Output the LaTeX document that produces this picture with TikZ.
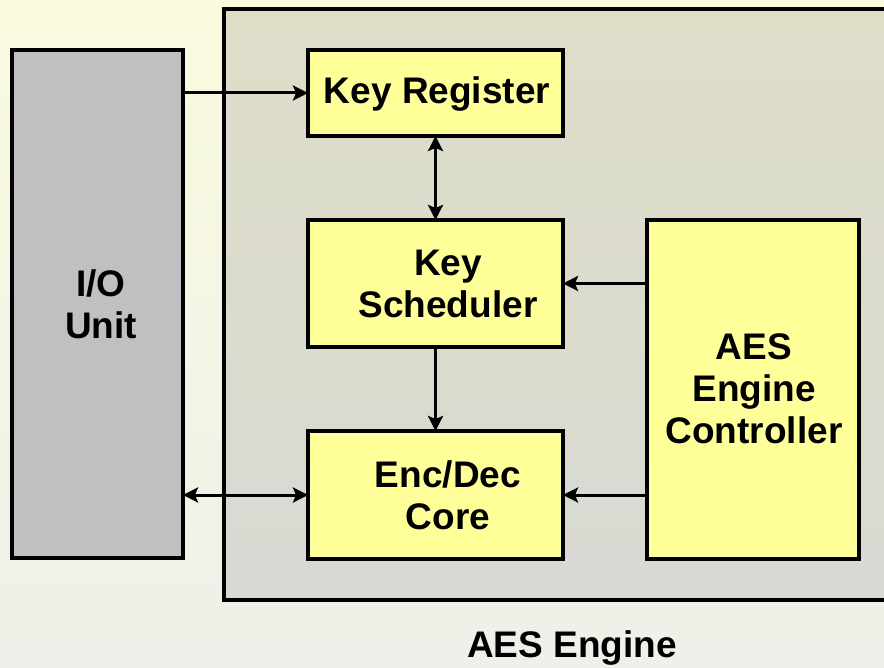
\documentclass[tikz,border=0pt]{standalone}
\usepackage{fontspec}
\setmainfont{Liberation Sans}
\usetikzlibrary{arrows.meta}
\definecolor{bgtop}{HTML}{FAFADF}
\definecolor{bgbot}{HTML}{EEF0EA}
\definecolor{intop}{HTML}{DEDDC8}
\definecolor{inbot}{HTML}{D8D9D3}
\definecolor{boxyellow}{HTML}{FFFF99}
\definecolor{boxgray}{HTML}{C0C0C0}
\tikzset{
  blk/.style={draw=black, line width=4pt, rectangle, inner sep=0pt, outer sep=0pt},
  yblk/.style={blk, fill=boxyellow},
  lbl/.style={font=\bfseries\fontsize{37}{42}\selectfont, align=center, inner sep=0pt},
  conn/.style={line width=3pt, -{Stealth[length=15pt,width=15pt,inset=3pt]}},
  biconn/.style={line width=3pt, {Stealth[length=15pt,width=15pt,inset=3pt]}-{Stealth[length=15pt,width=15pt,inset=3pt]}}
}
\begin{document}
\begin{tikzpicture}[x=1pt,y=-1pt]
\useasboundingbox (0,0) rectangle (884,668);
\clip (0,0) rectangle (884,668);
\shade[top color=bgtop, bottom color=bgbot] (0,0) rectangle (884,668);
% AES engine enclosure
\shade[top color=intop, bottom color=inbot] (224,9) rectangle (900,600);
\draw[line width=4pt] (224,9) rectangle (900,600);
% blocks
\node[blk, fill=boxgray, minimum width=171pt, minimum height=508pt] (io) at (97.5,304) {};
\node[yblk, minimum width=255pt, minimum height=86pt] (kr) at (435.5,93) {};
\node[yblk, minimum width=255pt, minimum height=127pt] (ks) at (435.5,283.5) {};
\node[yblk, minimum width=255pt, minimum height=128pt] (enc) at (435.5,495) {};
\node[yblk, minimum width=212pt, minimum height=339pt] (ctrl) at (752.5,389.5) {};
% labels
\node[lbl] (iot) at (101,304) {I/O\\Unit};
\node[lbl] (krt) at (437,94) {Key Register};
\node[lbl] (kst) at (448,284) {Key\\Scheduler};
\node[lbl] (enct) at (448,495) {Enc/Dec\\Core};
\node[lbl] (ctrlt) at (754,389) {AES\\Engine\\Controller};
\node[lbl] (aest) at (572,648) {AES Engine};
% connectors
\draw[conn] (kr.west -| io.east) -- (kr.west);
\draw[biconn] (kr.south) -- (ks.north);
\draw[conn] (ks.south) -- (enc.north);
\draw[conn] (ks.east -| ctrl.west) -- (ks.east);
\draw[conn] (enc.east -| ctrl.west) -- (enc.east);
\draw[biconn] (enc.west -| io.east) -- (enc.west);
\end{tikzpicture}
\end{document}
